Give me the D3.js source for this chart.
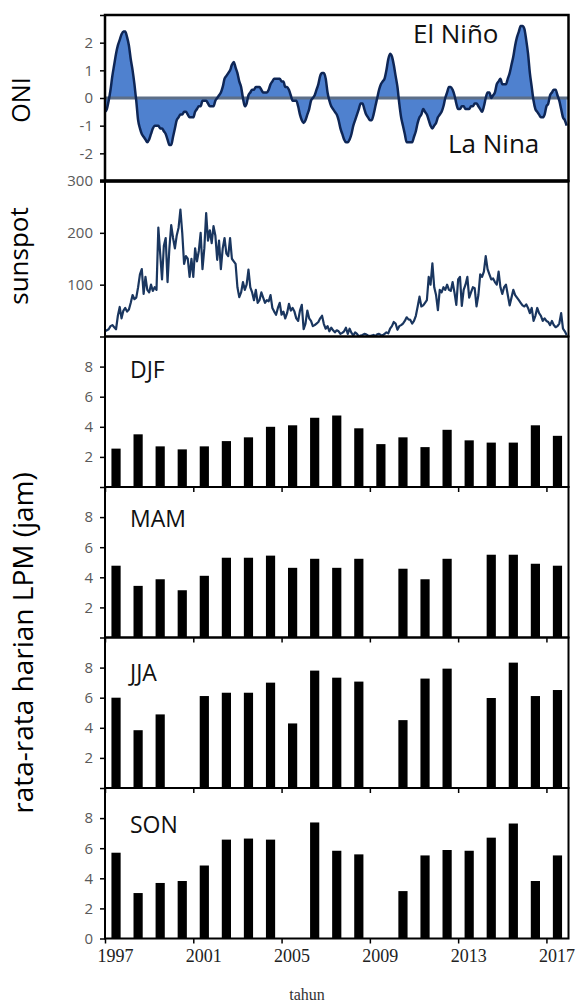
<!DOCTYPE html>
<html>
<head>
<meta charset="utf-8">
<script src="https://cdn.jsdelivr.net/npm/d3@7"></script>
<style>
  body { margin: 0; background: #fff; }
  svg { display: block; }
  .tick text { font-family: "Open Sans", sans-serif; font-size: 15px; fill: #595959; }
  .tick line { stroke: #000; stroke-width: 1.5; }
  .xlab .tick text { font-family: "Liberation Serif", serif; font-size: 18px; fill: #222; }
</style>
</head>
<body>
<div id="chart"></div>
<script>
// years shown as bars
var years = d3.range(1997, 2018);

// Oceanic Nino Index, monthly, Jan 1997 .. Dec 2017
var oni = [
  -0.5,-0.4,-0.1, 0.3, 0.8, 1.2, 1.6, 1.9, 2.1, 2.3, 2.4, 2.4,
   2.2, 1.9, 1.4, 1.0, 0.5,-0.1,-0.8,-1.1,-1.3,-1.4,-1.5,-1.6,
  -1.5,-1.3,-1.1,-1.0,-1.0,-1.0,-1.1,-1.1,-1.2,-1.3,-1.5,-1.7,
  -1.7,-1.4,-1.1,-0.8,-0.7,-0.6,-0.6,-0.5,-0.5,-0.6,-0.7,-0.7,
  -0.7,-0.5,-0.4,-0.3,-0.3,-0.1,-0.1,-0.1,-0.2,-0.3,-0.3,-0.3,
  -0.1, 0.0, 0.1, 0.2, 0.4, 0.7, 0.8, 0.9, 1.0, 1.2, 1.3, 1.1,
   0.9, 0.6, 0.4, 0.0,-0.3,-0.2, 0.1, 0.2, 0.3, 0.3, 0.4, 0.4,
   0.4, 0.3, 0.2, 0.2, 0.2, 0.3, 0.5, 0.6, 0.7, 0.7, 0.7, 0.7,
   0.6, 0.6, 0.4, 0.4, 0.3, 0.1,-0.1,-0.1,-0.1,-0.3,-0.6,-0.8,
  -0.9,-0.8,-0.6,-0.4,-0.1, 0.0, 0.1, 0.3, 0.5, 0.8, 0.9, 0.9,
   0.7, 0.2,-0.1,-0.3,-0.4,-0.5,-0.6,-0.8,-1.1,-1.3,-1.5,-1.6,
  -1.6,-1.5,-1.3,-1.0,-0.8,-0.6,-0.4,-0.2,-0.2,-0.4,-0.6,-0.7,
  -0.8,-0.8,-0.6,-0.3, 0.0, 0.3, 0.5, 0.6, 0.7, 1.0, 1.4, 1.6,
   1.5, 1.2, 0.8, 0.4,-0.2,-0.7,-1.0,-1.3,-1.6,-1.6,-1.6,-1.6,
  -1.4,-1.2,-0.9,-0.7,-0.6,-0.4,-0.5,-0.6,-0.8,-1.0,-1.1,-1.0,
  -0.9,-0.7,-0.6,-0.5,-0.3, 0.0, 0.2, 0.4, 0.4, 0.3, 0.1,-0.2,
  -0.4,-0.4,-0.3,-0.3,-0.4,-0.4,-0.4,-0.3,-0.3,-0.2,-0.2,-0.3,
  -0.4,-0.5,-0.3, 0.0, 0.2, 0.2, 0.0, 0.1, 0.2, 0.5, 0.6, 0.7,
   0.5, 0.5, 0.5, 0.7, 0.9, 1.2, 1.5, 1.9, 2.2, 2.4, 2.6, 2.6,
   2.5, 2.1, 1.6, 0.9, 0.4,-0.1,-0.4,-0.5,-0.6,-0.7,-0.7,-0.6,
  -0.3,-0.2, 0.1, 0.2, 0.3, 0.3, 0.1,-0.1,-0.4,-0.7,-0.8,-1.0
];

// monthly sunspot number, Jan 1997 .. Dec 2017
var sunspot = [
   10, 12, 14, 20, 22, 18, 14, 40, 57, 35, 50, 55,
   48, 52, 65, 80, 72, 75, 95,120,130, 82,115, 90,
   85,100, 88, 95, 90,210,160,110,175,190,105,170,
  215,190,170,195,210,245,200,140,155,150,115,150,
  115,170,145,165,200,130,170,238,185,205,180,213,
  195,148,185,130,170,190,160,155,190,150,145,140,
   95, 76, 85,105, 90,100,129, 95, 85, 70, 90, 65,
   70, 85, 75, 65, 70, 68, 80, 55, 48, 42, 55, 65,
   42, 48, 35, 45, 63, 50, 55, 48, 35, 30, 50, 61,
   14, 25, 50, 35, 30, 20, 22, 25, 28, 35, 40, 24,
   15, 20, 10, 17, 12,  8, 12, 10,  5,  7, 10, 17,
    5, 15,  7,  2,  8,  5,  0,  2,  3,  5,  4,  2,
    1,  2,  3,  1,  4,  5,  3,  2,  5,  8,  6, 15,
   20, 28, 25, 13, 20, 22, 25, 30, 37, 33, 32, 25,
   30, 40, 58, 77, 58, 60, 65, 70,115,100,141, 95,
   80, 51, 90, 85, 95, 90,100, 90, 88,105, 85, 61,
  110,115, 59, 90,100,115, 75, 85, 95, 93, 58, 80,
  120,115,125,155,130,120,110,112,105,100,125, 95,
   82, 95,100, 80, 60, 75, 90, 80, 75, 70, 65, 60,
   58, 62, 55, 45, 55, 30, 40, 55, 45, 40, 30, 35,
   30, 28, 22, 30, 22, 18, 20, 25, 45, 15, 10,  3
];

// seasonal mean daily hours (jam), null = no data
var djf = [2.55,3.5,2.7,2.5,2.7,3.05,3.3,4.0,4.1,4.6,4.75,3.9,2.85,3.3,2.65,3.8,3.1,2.95,2.95,4.1,3.4];
var mam = [4.77,3.43,3.87,3.14,4.1,5.3,5.3,5.44,4.63,5.23,4.63,5.23,null,4.57,3.87,5.23,null,5.5,5.5,4.9,4.77];
var jja = [6.0,3.84,4.89,null,6.11,6.33,6.33,7.0,4.29,7.8,7.33,7.07,null,4.51,7.27,7.93,null,5.98,8.33,6.11,6.51];
var son = [5.7,3.02,3.69,3.82,4.85,6.57,6.64,6.57,null,7.71,5.83,5.59,null,3.15,5.52,5.88,5.83,6.7,7.64,3.82,5.52];

var seasons = ["DJF", "MAM", "JJA", "SON"];
var seasonData = [djf, mam, jja, son];
var xTickYears = [1997, 2001, 2005, 2009, 2013, 2017];

var w = 579, h = 1003;
var left = 105, right = 568.5;

var svg = d3.select("#chart").append("svg")
  .attr("width", w)
  .attr("height", h);

var x = d3.scaleLinear().domain([1997, 2018]).range([left, right]);
function monthX(i) { return x(1997 + i / 12); }

var defs = svg.append("defs");
function clip(id, y0, y1) {
  defs.append("clipPath").attr("id", id)
    .append("rect").attr("x", left).attr("y", y0).attr("width", right - left).attr("height", y1 - y0);
  return "url(#" + id + ")";
}

// left axis with ticks, no domain line (frames are drawn separately)
function yAxis(scale, ticks, hideFn) {
  var g = svg.append("g").attr("transform", "translate(" + left + ",0)");
  g.call(d3.axisLeft(scale).tickValues(ticks).tickSize(5).tickPadding(7)
      .tickFormat(function(d){ return hideFn(d) ? "" : d; }));
  g.select(".domain").remove();
  return g;
}

//////////////// ONI ////////////////
var oniTop = 15, oniBot = 181;
var yOni = d3.scaleLinear().domain([-3, 3]).range([oniBot, oniTop]);

var gOni = svg.append("g").attr("clip-path", clip("clipOni", oniTop, oniBot));
gOni.append("path")
  .datum(oni)
  .attr("fill", "#4f81cf")
  .attr("d", d3.area().curve(d3.curveMonotoneX)
    .x(function(d, i){ return monthX(i); })
    .y0(yOni(0))
    .y1(function(d){ return yOni(d); }));
gOni.append("line")
  .attr("x1", left).attr("x2", right)
  .attr("y1", yOni(0)).attr("y2", yOni(0))
  .attr("stroke", "#5d6f88").attr("stroke-width", 3);
gOni.append("path")
  .datum(oni)
  .attr("fill", "none")
  .attr("stroke", "#0e2656")
  .attr("stroke-width", 2.5)
  .attr("d", d3.line().curve(d3.curveMonotoneX)
    .x(function(d, i){ return monthX(i); })
    .y(function(d){ return yOni(d); }));

yAxis(yOni, [-3, -2, -1, 0, 1, 2, 3], function(d){ return Math.abs(d) == 3; });
svg.append("rect")
  .attr("x", left).attr("y", oniTop).attr("width", right - left).attr("height", oniBot - oniTop)
  .attr("fill", "none").attr("stroke", "#000").attr("stroke-width", 2.5);

svg.append("text").attr("x", 413).attr("y", 43)
  .style("font-family", "Open Sans").style("font-size", "26px").attr("fill", "#111")
  .text("El Niño");
svg.append("text").attr("x", 448).attr("y", 153)
  .style("font-family", "Open Sans").style("font-size", "26px").attr("fill", "#111")
  .text("La Nina");

//////////////// sunspot ////////////////
var ssTop = 181, ssBot = 336.5;
var ySs = d3.scaleLinear().domain([0, 300]).range([ssBot, ssTop]);

svg.append("g").attr("clip-path", clip("clipSs", ssTop, ssBot))
  .append("path")
  .datum(sunspot)
  .attr("fill", "none")
  .attr("stroke", "#1a365f")
  .attr("stroke-width", 2.2)
  .attr("stroke-linejoin", "round")
  .attr("d", d3.line()
    .x(function(d, i){ return monthX(i); })
    .y(function(d){ return ySs(d); }));

yAxis(ySs, [0, 100, 200, 300], function(d){ return d == 0; });
svg.append("rect")
  .attr("x", left).attr("y", ssTop).attr("width", right - left).attr("height", ssBot - ssTop)
  .attr("fill", "none").attr("stroke", "#000").attr("stroke-width", 2);
svg.append("line")
  .attr("x1", left - 5).attr("x2", right).attr("y1", ssTop).attr("y2", ssTop)
  .attr("stroke", "#000").attr("stroke-width", 3.5);

//////////////// seasonal bars ////////////////
var barTop = 336.5, barH = 150.5;
var barW = 9.2;

seasons.forEach(function(s, k){
  var top = barTop + k * barH, bot = top + barH;
  var y = d3.scaleLinear().domain([0, 10]).range([bot, top]);
  var g = svg.append("g");

  g.selectAll("rect.bar")
    .data(seasonData[k].map(function(v, i){ return {year: years[i], value: v}; })
      .filter(function(d){ return d.value != null; }))
    .enter()
    .append("rect")
    .attr("class", "bar")
    .attr("x", function(d){ return x(d.year + 0.5) - barW / 2; })
    .attr("y", function(d){ return y(d.value); })
    .attr("width", barW)
    .attr("height", function(d){ return y(0) - y(d.value); })
    .attr("fill", "#000");

  yAxis(y, [0, 2, 4, 6, 8], function(d){ return d == 0 && k < 3; });

  var xa = svg.append("g").attr("class", k == 3 ? "xlab" : "")
    .attr("transform", "translate(0," + bot + ")")
    .call(d3.axisBottom(x).tickValues(xTickYears).tickSize(5).tickPadding(6)
      .tickFormat(function(d){ return k == 3 ? d : ""; }));
  xa.select(".domain").remove();
  if (k == 3) {
    xa.selectAll(".tick text").attr("dx", 10);
  }

  svg.append("rect")
    .attr("x", left).attr("y", top).attr("width", right - left).attr("height", barH)
    .attr("fill", "none").attr("stroke", "#000").attr("stroke-width", 2);

  svg.append("text").attr("x", 130).attr("y", top + [41, 40, 43, 45][k])
    .style("font-family", "Open Sans").style("font-size", "23px").attr("fill", "#111")
    .text(s);
});

//////////////// axis titles ////////////////
function vTitle(txt, cx, cy, size) {
  svg.append("text")
    .attr("transform", "translate(" + cx + "," + cy + ") rotate(-90)")
    .attr("text-anchor", "middle")
    .style("font-family", "Open Sans").style("font-size", size + "px").attr("fill", "#000")
    .text(txt);
}
vTitle("ONI", 30, 100, 25);
vTitle("sunspot", 28, 256, 26);
vTitle("rata-rata harian LPM (jam)", 33, 643, 28);

svg.append("text")
  .attr("x", 307).attr("y", 1000)
  .attr("text-anchor", "middle")
  .style("font-family", "Liberation Serif").style("font-size", "16px").attr("fill", "#333")
  .text("tahun");
</script>
</body>
</html>
